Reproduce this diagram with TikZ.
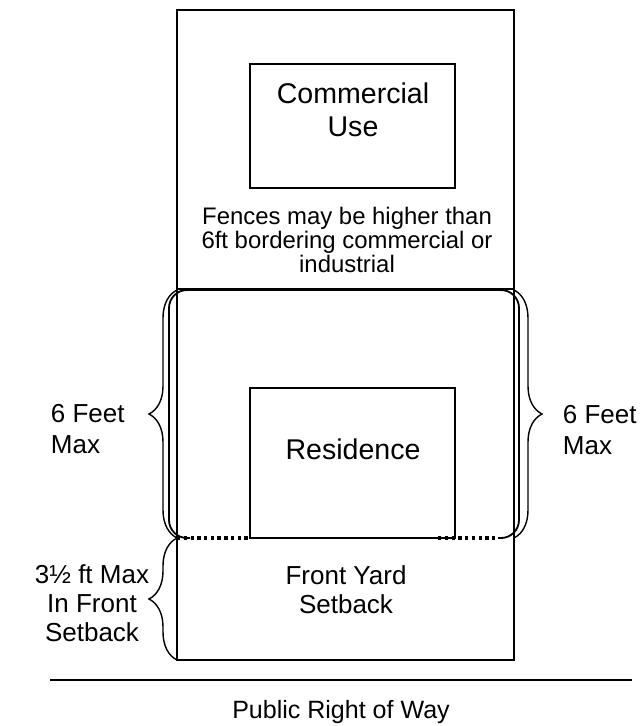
\documentclass[tikz,border=0pt]{standalone}
\usepackage{fontspec}
\setmainfont{Liberation Sans}
\usetikzlibrary{decorations.pathreplacing}

\tikzset{
  lbl/.style={inner sep=0pt, align=center},
  bigtxt/.style={font=\fontsize{20.3}{23.5}\selectfont},
  medtxt/.style={font=\fontsize{18.5}{20.8}\selectfont},
  smalltxt/.style={font=\fontsize{17}{17.1}\selectfont},
  fencebrace/.style={decorate, decoration={brace, amplitude=0.7cm}, line width=1pt},
  fenceline/.style={line width=2.6pt, dash pattern=on 2.4pt off 2.4pt},
}

\begin{document}
\begin{tikzpicture}[x=0.025cm, y=-0.025cm, line width=1.3pt]
	\useasboundingbox (0,0) rectangle (641,726);
	% lot and the split between the two uses
	\draw (177,10) rectangle (514,660);
	\draw (177,289) -- (514,289);
	% buildings
	\draw (250,64) rectangle (455,188);
	\draw (250,388) rectangle (455,538);
	% fenced yard, open at the front
	\draw[rounded corners=0.45cm] (190,538) -- (169,538) -- (169,290) -- (519,290) -- (519,538) -- (498,538);
	\draw[fenceline] (177,538) -- (250,538);
	\draw[fenceline] (438,538) -- (498,538);
	% street line
	\draw (50,680) -- (632,680);
	% heights
	\draw[fencebrace] (177,538) -- (177,290);
	\draw[fencebrace] (514,290) -- (514,538);
	\draw[fencebrace] (177,660) -- (177,538);
	\node[lbl, bigtxt, anchor=north] (comm) at (353,81.6) {Commercial\\Use};
	\node[lbl, smalltxt, anchor=north] (note) at (347,206) {Fences may be higher than\\6ft bordering commercial or\\industrial};
	\node[lbl, bigtxt, anchor=north] (res) at (353,437.6) {Residence};
	\node[lbl, medtxt, anchor=north] (yard) at (346,564.4) {Front Yard\\Setback};
	\node[lbl, align=left, font=\fontsize{18.5}{22}\selectfont, anchor=north west] (maxl) at (50,403.4) {6 Feet\\Max};
	\node[lbl, align=left, font=\fontsize{18.5}{22}\selectfont, anchor=north west] (maxr) at (562,404.4) {6 Feet\\Max};
	\node[lbl, medtxt, anchor=north] (maxfront) at (92,563.4) {3½ ft Max\\In Front\\Setback};
	\node[lbl, font=\fontsize{17.8}{20}\selectfont, anchor=north] (row) at (341,699) {Public Right of Way};
\end{tikzpicture}
\end{document}
